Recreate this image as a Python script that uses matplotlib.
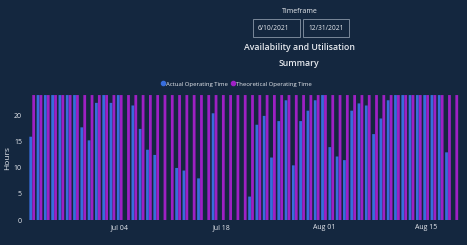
import numpy as np
import pandas as pd
import matplotlib
matplotlib.use("Agg")
import matplotlib.pyplot as plt
import matplotlib.dates as mdates
from matplotlib.patches import Rectangle
from matplotlib.lines import Line2D

plt.rcParams['font.family'] = ['Open Sans', 'DejaVu Sans']

# daily values (hours)
start_date = "2021-06-22"
actual_hours = [16, 24, 24, 24, 24, 24, 24, 17.8, 15.3, 22.5,
                24, 22.5, 24, 0, 22, 17.5, 13.5, 12.5, 0, 0,
                10, 9.5, 0, 8, 0, 20.5, 0, 0, 0, 0,
                4.5, 18.3, 20, 12, 19, 23, 10.5, 19, 21, 23,
                24, 14, 12.2, 11.5, 21, 22.4, 22, 16.5, 19.5, 23,
                24, 24, 24, 24, 24, 24, 24, 13, 0]
theoretical_hours = [24] * len(actual_hours)
tick_dates = ["2021-07-04", "2021-07-18", "2021-08-01", "2021-08-15"]
y_ticks = [0, 5, 10, 15, 20]
date_from = "6/10/2021"
date_to = "12/31/2021"

bg = "#14273f"
blue = "#376ddc"
purple = "#9e20c4"
txt = "#e6e9ee"

days = pd.date_range(start_date, periods=len(actual_hours))
x = mdates.date2num(days)

fig = plt.figure(figsize=(4.67, 2.45), dpi=100, facecolor=bg)
ax = fig.add_axes([0.056, 0.102, 0.933, 0.51], facecolor=bg)

w = 0.38
ax.bar(x - 0.2, actual_hours, width=w, color=blue, linewidth=0, snap=False)
ax.bar(x + 0.2, theoretical_hours, width=w, color=purple, linewidth=0, snap=False)

ax.set_xlim(x[0] - 0.83, x[-1] + 0.9)
ax.set_ylim(0, 24)
ax.set_yticks(y_ticks)
ax.set_xticks(mdates.date2num(pd.to_datetime(tick_dates)))
ax.xaxis.set_major_formatter(mdates.DateFormatter("%b %d"))
ax.tick_params(colors=txt, labelsize=5, length=0, pad=3)
for s in ax.spines.values():
    s.set_visible(False)
ax.set_ylabel("Hours", color=txt, fontsize=6, labelpad=2)

# header texts
fig.text(0.641, 0.955, "Timeframe", color=txt, fontsize=5, ha="center", va="center")
for x0, x1, label in [(253, 300, date_from), (303, 349, date_to)]:
    fig.patches.append(Rectangle((x0 / 467, 1 - 37 / 245), (x1 - x0) / 467, 18 / 245,
                                 transform=fig.transFigure, fill=False,
                                 edgecolor="#8a97a8", linewidth=0.6))
    fig.text((x0 + 5) / 467, 1 - 28 / 245, label, color=txt, fontsize=4.8, ha="left", va="center")
fig.text(0.641, 1 - 47 / 245, "Availability and Utilisation", color=txt, fontsize=6.3,
         fontweight="semibold", ha="center", va="center")
fig.text(0.641, 1 - 63 / 245, "Summary", color=txt, fontsize=6.3, fontweight="semibold",
         ha="center", va="center")

handles = [Line2D([], [], marker="o", linestyle="", color=blue, markersize=3),
           Line2D([], [], marker="o", linestyle="", color=purple, markersize=3)]
fig.legend(handles, ["Actual Operating Time", "Theoretical Operating Time"],
           loc="center", bbox_to_anchor=(0.505, 1 - 84 / 245), ncol=2, frameon=False,
           fontsize=4.3, labelcolor=txt, handletextpad=0.1, columnspacing=0.5,
           handlelength=0.8, borderpad=0)

fig.savefig("out.png", dpi=100, facecolor=bg)
